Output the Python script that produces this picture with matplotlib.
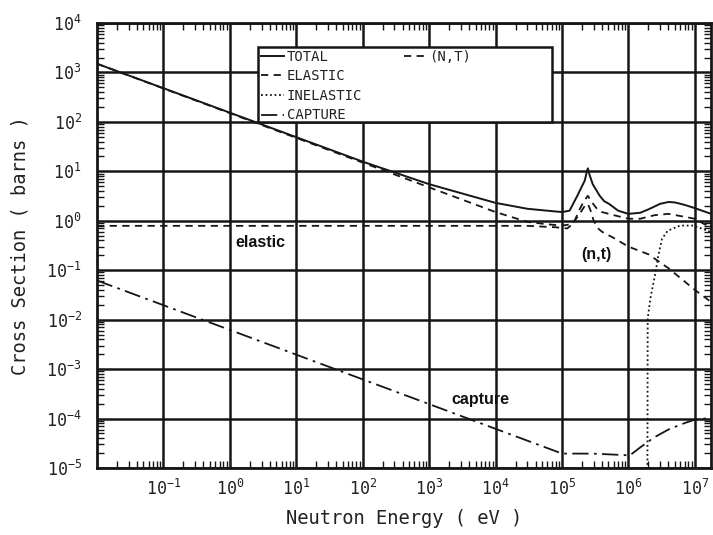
import matplotlib
matplotlib.use("Agg")
import matplotlib.pyplot as plt
from matplotlib.patches import Rectangle
from matplotlib.ticker import LogLocator, NullFormatter

plt.rcParams['font.family'] = ['DejaVu Sans Mono', 'DejaVu Sans']
plt.rcParams['mathtext.fontset'] = 'custom'
plt.rcParams['mathtext.rm'] = 'DejaVu Sans Mono'

# neutron energy (eV) and cross sections (barns)
total_e = [1e-2, 1e2, 1e3, 1e4, 3e4, 6e4, 1e5, 1.3e5, 1.7e5, 2.0e5, 2.2e5, 2.35e5, 2.45e5,
           2.6e5, 2.9e5, 3.2e5, 3.7e5, 4.3e5, 5.1e5, 7e5, 1e6, 1.5e6, 2e6, 3e6, 4e6, 5e6,
           7e6, 1e7, 2e7]
total_xs = [1500, 15.7, 5.5, 2.3, 1.75, 1.6, 1.5, 1.6, 3.2, 5.0, 6.5, 9.5, 11.5,
            8.5, 5.5, 4.4, 3.2, 2.5, 2.2, 1.6, 1.38, 1.45, 1.7, 2.2, 2.4, 2.35,
            2.1, 1.8, 1.3]

elastic_e = [1e-2, 3e4, 8e4, 1.2e5, 1.5e5, 1.8e5, 2.1e5, 2.45e5, 2.8e5, 3.3e5, 4e5, 6e5,
             1e6, 1.5e6, 2.5e6, 4e6, 6e6, 1e7, 1.4e7, 2e7]
elastic_xs = [0.79, 0.79, 0.74, 0.7, 0.9, 1.6, 2.4, 3.2, 2.4, 1.8, 1.5, 1.3,
              1.1, 1.1, 1.3, 1.38, 1.25, 1.1, 0.85, 0.7]

inelastic_e = [1.93e6, 1.95e6, 2.14e6, 2.57e6, 2.8e6, 3.2e6, 3.9e6, 6e6, 9.5e6, 1.55e7, 2e7]
inelastic_xs = [5e-6, 0.0105, 0.027, 0.093, 0.19, 0.43, 0.63, 0.8, 0.8, 0.63, 0.55]

capture_e = [1e-2, 1e5, 3e5, 7e5, 1.05e6, 1.5e6, 2.4e6, 4e6, 7e6, 1e7, 2e7]
capture_xs = [0.062, 1.96e-5, 1.95e-5, 1.85e-5, 1.8e-5, 2.6e-5, 4.1e-5, 6e-5, 8.1e-5, 9.5e-5, 1.05e-4]

nt_e = [1e-2, 1e4, 3e4, 6e4, 1e5, 1.4e5, 1.8e5, 2.2e5, 2.45e5, 2.7e5, 3e5, 3.5e5, 4e5,
        6e5, 1e6, 2e6, 4e6, 1e7, 2e7]
nt_xs = [1500, 1.5, 0.95, 0.85, 0.8, 0.85, 1.3, 2.0, 2.2, 1.6, 1.0, 0.7, 0.6,
         0.45, 0.3, 0.21, 0.11, 0.04, 0.02]

x_major = [1e-1, 1e0, 1e1, 1e2, 1e3, 1e4, 1e5, 1e6, 1e7]

ink = '#161616'

fig = plt.figure(figsize=(7.13, 5.35), dpi=100, facecolor='white')
ax = fig.add_axes([97/713, 1-468/535, 614/713, 445/535])
ax.set_xscale('log')
ax.set_yscale('log')
ax.set_xlim(1e-2, 1.75e7)
ax.set_ylim(1e-5, 1e4)

ax.plot(nt_e, nt_xs, color=ink, lw=1.3, dashes=(4, 3), label='(N,T)', zorder=2)
ax.plot(elastic_e, elastic_xs, color=ink, lw=1.3, dashes=(4, 3), label='ELASTIC', zorder=2)
ax.plot(inelastic_e, inelastic_xs, color=ink, lw=1.3, dashes=(1, 1.5), label='INELASTIC', zorder=2)
ax.plot(capture_e, capture_xs, color=ink, lw=1.3, dashes=(9, 3, 1.5, 3), label='CAPTURE', zorder=2)
ax.plot(total_e, total_xs, color=ink, lw=1.4, label='TOTAL', zorder=2)

# ticks and grid
ax.set_xticks(x_major)
ax.yaxis.set_major_locator(LogLocator(base=10, numticks=20))
ax.xaxis.set_minor_locator(LogLocator(base=10, subs=range(2, 10), numticks=30))
ax.yaxis.set_minor_locator(LogLocator(base=10, subs=range(2, 10), numticks=30))
ax.xaxis.set_minor_formatter(NullFormatter())
ax.yaxis.set_minor_formatter(NullFormatter())
ax.tick_params(which='major', length=0, labelsize=12, labelcolor='#222222')
ax.tick_params(axis='y', which='major', pad=11)
ax.tick_params(axis='x', which='major', pad=8)
ax.tick_params(which='minor', direction='in', length=5, width=1, color=ink,
               top=True, right=True)
ax.set_axisbelow(True)
ax.grid(which='major', color=ink, lw=1.8)
for s in ax.spines.values():
    s.set_linewidth(2)
    s.set_color(ink)

ax.set_xlabel('Neutron Energy ( eV )', fontsize=13.5, color='#222222', labelpad=7)
ax.set_ylabel('Cross Section ( barns )', fontsize=13.5, color='#222222', labelpad=12)

# legend box
box = Rectangle((0.262, 0.778), 0.479, 0.168, transform=ax.transAxes,
                facecolor='white', edgecolor=ink, lw=1.8, zorder=3)
ax.add_patch(box)
handles, labels = ax.get_legend_handles_labels()
order = [4, 1, 2, 3, 0]
h = [handles[i] for i in order]
l = [labels[i] for i in order]
blank = plt.Line2D([], [], color='none')
leg = ax.legend(h[:4] + [h[4], blank, blank, blank], l[:4] + ['(N,T)', '', '', ''],
                ncol=2, loc='upper left', bbox_to_anchor=(0.267, 0.94),
                frameon=False, fontsize=10, handlelength=1.65, handletextpad=0.2,
                labelspacing=0.4, columnspacing=3.0, borderpad=0, borderaxespad=0)
leg.set_zorder(4)
for t in leg.get_texts():
    t.set_color('#222222')

# curve labels
lab = dict(family=['Liberation Sans', 'DejaVu Sans'], fontweight='bold', fontsize=11.5,
           ha='center', va='center', color='#111111')
ax.text(2.9, 0.37, 'elastic', **lab)
ax.text(5.9e3, 2.4e-4, 'capture', **lab)
ax.text(3.25e5, 0.21, '(n,t)', **lab)

fig.savefig('out.png', dpi=100, facecolor='white')
